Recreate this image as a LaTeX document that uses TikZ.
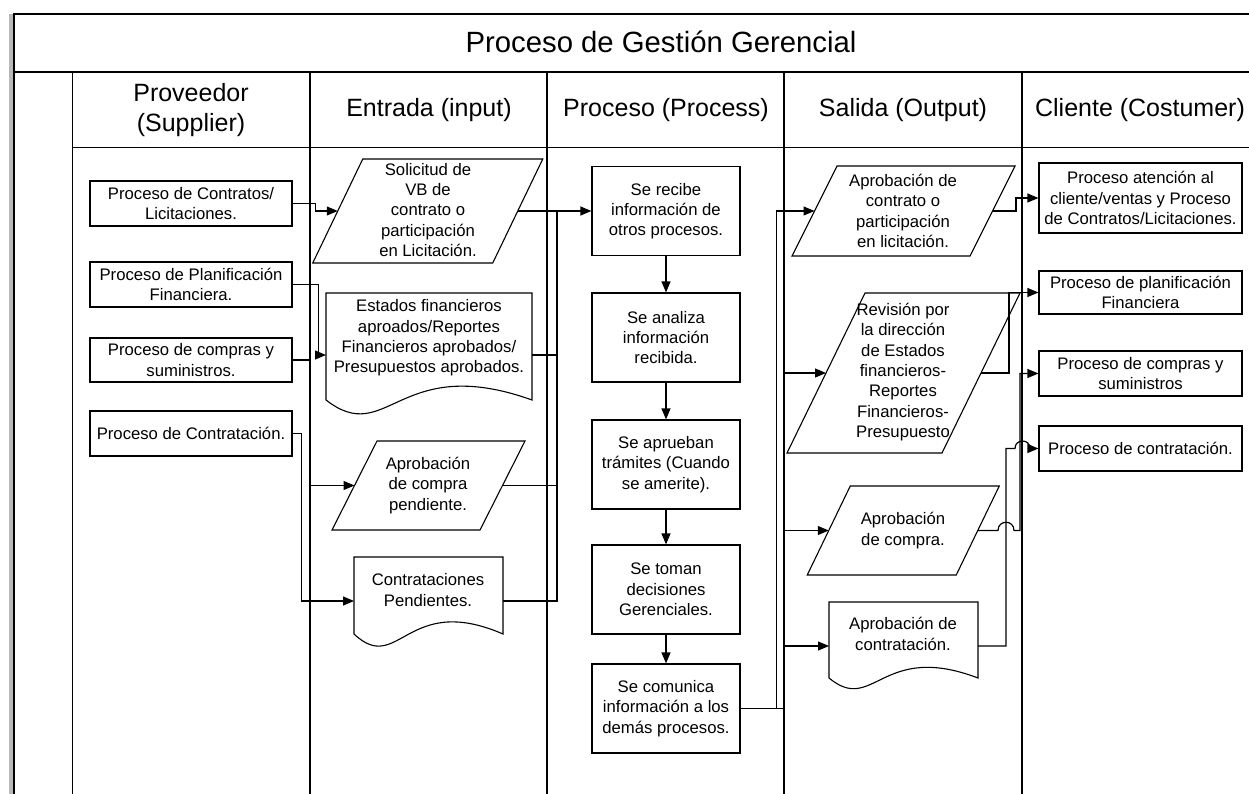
\documentclass[tikz,border=0pt]{standalone}
\usepackage{fontspec}
\setmainfont{Liberation Sans}
\usetikzlibrary{arrows.meta}

% parallelogram: name, centre x, centre y, side length, height, slant
\newcommand\paragram[6]{%
  \draw[shapeline] ({#2-#4/2+#6/2},{#3-#5/2}) -- ({#2+#4/2+#6/2},{#3-#5/2})
    -- ({#2+#4/2-#6/2},{#3+#5/2}) -- ({#2-#4/2-#6/2},{#3+#5/2}) -- cycle;
  \coordinate (#1-w) at ({#2-#4/2},#3);
  \coordinate (#1-e) at ({#2+#4/2},#3);
}
% document symbol: name, left x, right x, top y, bottom y, wave depth
\newcommand\docshape[6]{%
  \draw[shapeline] (#2,#5) -- (#2,#4) -- (#3,#4) -- (#3,#5)
    .. controls ({#2+0.35*(#3-#2)},{#5-#6}) and ({#2+0.3*(#3-#2)},{#5+#6}) .. (#2,#5) -- cycle;
}

\begin{document}
\begin{tikzpicture}[x=1pt,y=-1pt,
  txt/.style={font=\fontsize{16.7}{20.3}\selectfont, align=center, inner sep=0pt},
  hdr/.style={font=\fontsize{25}{30}\selectfont, align=center, inner sep=0pt},
  ttl/.style={font=\fontsize{29.3}{34}\selectfont, inner sep=0pt},
  box/.style={txt, draw, line width=1.2pt},
  shapeline/.style={line width=1.1pt, line join=miter},
  lane/.style={line width=1.4pt},
  conn/.style={line width=1.2pt, -{Triangle[length=11pt,width=9pt]}},
  plain/.style={line width=1.2pt}]

\useasboundingbox (0,0) rectangle (1249,794);

% ---- frame, title band and swim lanes ----
\fill[gray!55] (9,14) rectangle (13,794);
\draw[line width=1.4pt] (14,794) -- (14,14) -- (1249,14);
\draw[line width=1.8pt] (14,72) -- (1249,72);
\draw[lane] (72.5,147.5) -- (1249,147.5);
\foreach \lx in {72.5,310,547,784,1022}
  \draw[lane] (\lx,72) -- (\lx,794);

\node[ttl] (title) at (661,42) {Proceso de Gestión Gerencial};
\node[hdr] (hsup)  at (191,110)  {Proveedor\\(Supplier)};
\node[hdr] (hin)   at (429,110)  {Entrada (input)};
\node[hdr] (hproc) at (666,110)  {Proceso (Process)};
\node[hdr] (hout)  at (903,110)  {Salida (Output)};
\node[hdr] (hcli)  at (1140,110) {Cliente (Costumer)};

% ---- supplier column ----
\node[box, minimum width=202pt, minimum height=45pt] (sup1) at (191,203.5) {Proceso de Contratos/\\Licitaciones.};
\node[box, minimum width=202pt, minimum height=45pt] (sup2) at (191,284.5) {Proceso de Planificación\\Financiera.};
\node[box, minimum width=202pt, minimum height=44pt] (sup3) at (191,360) {Proceso de compras y\\suministros.};
\node[box, minimum width=202pt, minimum height=45pt] (sup4) at (191,433.5) {Proceso de Contratación.};

% ---- input column ----
\paragram{sol}{427.75}{211}{180}{104}{50}
\node[txt] (sol) at (428,210) {Solicitud de\\VB de\\contrato o\\participación\\en Licitación.};

\docshape{est}{326}{532}{293}{400}{48}
\node[txt] (est) at (429,338) {Estados financieros\\aproados/Reportes\\Financieros aprobados/\\Presupuestos aprobados.};
\coordinate (est-in) at (326,355);
\coordinate (est-out) at (532,355);

\paragram{acp}{428.5}{485.5}{148}{89}{45}
\node[txt] (acp) at (428,485.5) {Aprobación\\de compra\\pendiente.};

\docshape{cpd}{354}{503}{557}{634}{42}
\node[txt] (cpd) at (428,590) {Contrataciones\\Pendientes.};
\coordinate (cpd-in) at (354,601);
\coordinate (cpd-out) at (503,601);

\coordinate (bus) at (557,211);

% ---- process column ----
\node[box, minimum width=148pt, minimum height=89pt] (pr1) at (666,211)   {Se recibe\\información de\\otros procesos.};
\node[box, minimum width=148pt, minimum height=89pt] (pr2) at (666,337.5) {Se analiza\\información\\recibida.};
\node[box, minimum width=148pt, minimum height=89pt] (pr3) at (666,464.5) {Se aprueban\\trámites (Cuando\\se amerite).};
\node[box, minimum width=148pt, minimum height=89pt] (pr4) at (666,589.5) {Se toman\\decisiones\\Gerenciales.};
\node[box, minimum width=148pt, minimum height=89pt] (pr5) at (666,708.5) {Se comunica\\información a los\\demás procesos.};

% ---- output column ----
\paragram{sal1}{903.5}{211}{178}{90}{45}
\node[txt] (sal1) at (903,211) {Aprobación de\\contrato o\\participación\\en licitación.};

\paragram{sal2}{903.5}{373}{155}{160}{78}
\node[txt] (sal2) at (903,372) {Revisión por\\la dirección\\de Estados\\financieros-\\Reportes\\Financieros-\\Presupuesto};

\paragram{sal3}{903.25}{530.5}{149}{89}{43}
\node[txt] (sal3) at (903,530.5) {Aprobación\\de compra.};

\docshape{sal4}{829}{978}{602}{678}{37}
\node[txt] (sal4) at (903,634) {Aprobación de\\contratación.};
\coordinate (sal4-in) at (829,646);
\coordinate (sal4-out) at (978,646);

% ---- customer column ----
\node[box, minimum width=203pt, minimum height=70pt] (cl1) at (1140.5,198)   {Proceso atención al\\cliente/ventas y Proceso\\de Contratos/Licitaciones.};
\node[box, minimum width=203pt, minimum height=43pt] (cl2) at (1140.5,292.5) {Proceso de planificación\\Financiera};
\node[box, minimum width=203pt, minimum height=45pt] (cl3) at (1140.5,373.5) {Proceso de compras y\\suministros};
\node[box, minimum width=203pt, minimum height=45pt] (cl4) at (1140.5,448.5) {Proceso de contratación.};

% ---- connectors: supplier -> input ----
\draw[conn] (sup1.east) -- ++(23,0) |- (sol-w);
\draw[conn] (sup2.east) -- ++(26,0) |- (est-in);
\draw[conn] (sup3.east) -- ++(18,0) |- (acp-w);
\draw[conn] (sup4.east) -- ++(9,0) |- (cpd-in);

% ---- input -> process (collecting bus) ----
\draw[plain] (est-out) -| (bus);
\draw[plain] (acp-e) -| (bus);
\draw[plain] (cpd-out) -| (bus);
\draw[conn] (sol-e) -- (pr1.west);

% ---- process chain ----
\draw[conn] (pr1.south) -- (pr2.north);
\draw[conn] (pr2.south) -- (pr3.north);
\draw[conn] (pr3.south) -- (pr4.north);
\draw[conn] (pr4.south) -- (pr5.north);

% ---- process -> output ----
\draw[conn] (pr5.east) -- ++(36,0) |- (sal1-w);
\draw[conn] (pr5.east) -- ++(44,0) |- (sal2-w);
\draw[conn] (pr5.east) -- ++(44,0) |- (sal3-w);
\draw[conn] (pr5.east) -- ++(44,0) |- (sal4-in);

% ---- output -> customer ----
\draw[conn] (sal1-e) -- ++(23.5,0) |- (cl1.west);
\draw[conn] (sal2-e) -- ++(28,0) |- (cl2.west);
\draw[conn] (sal3-e) -- (998,530.5) .. controls (998,519.5) and (1014,519.5) .. (1014,530.5)
  -- (1020,530.5) |- (cl3.west);
\draw[conn] (sal4-out) -| (1006,448.5) -- (1015,448.5)
  .. controls (1015,438.5) and (1030,438.5) .. (1030,448.5) -- (cl4.west);

\end{tikzpicture}
\end{document}
